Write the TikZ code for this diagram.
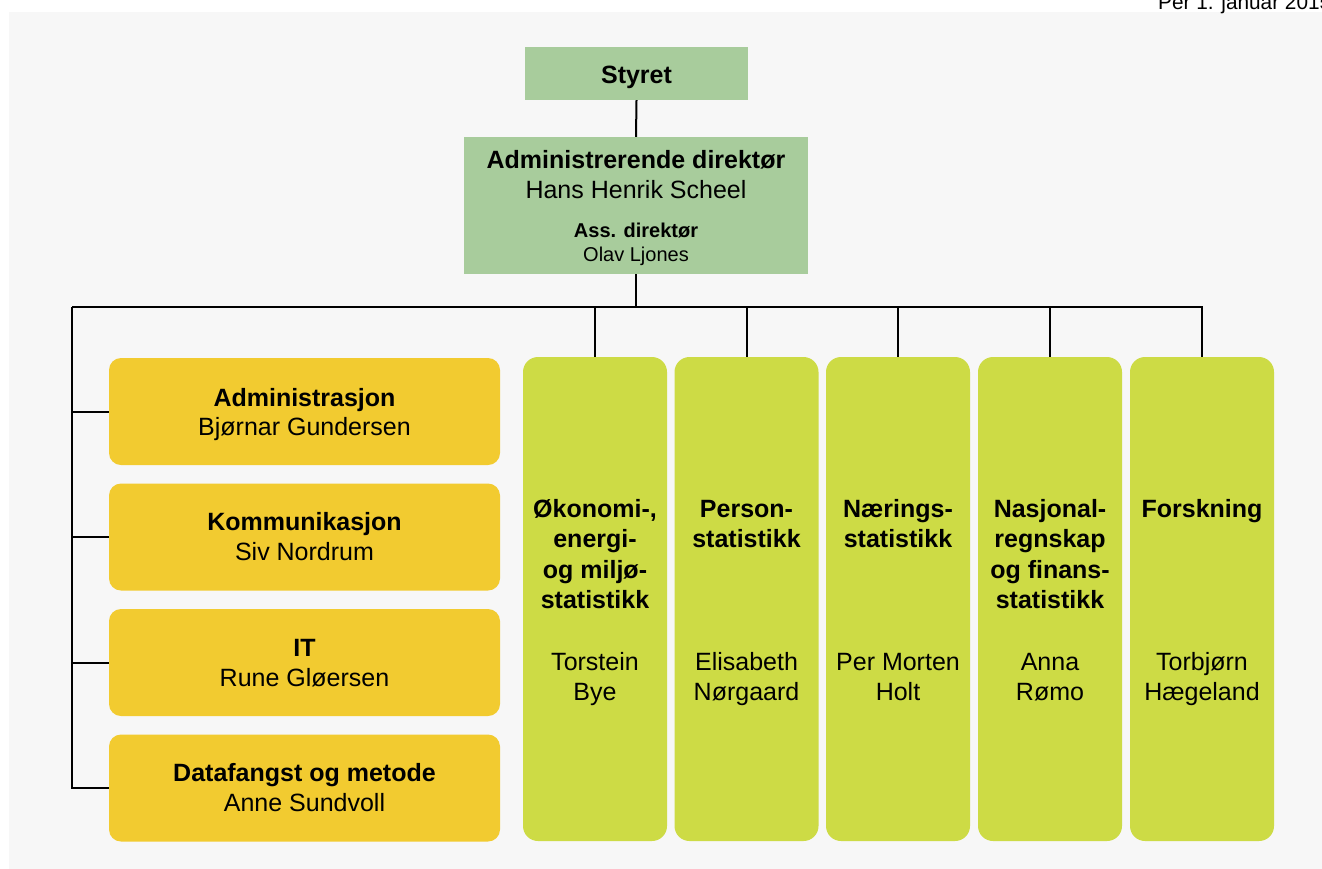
\documentclass[tikz,border=0pt]{standalone}
\usepackage{fontspec}
\setmainfont{Liberation Sans}
\definecolor{panel}{RGB}{247,247,247}
\definecolor{topgreen}{RGB}{168,204,156}
\definecolor{boxyellow}{RGB}{242,203,48}
\definecolor{lime}{RGB}{205,219,69}
\newcommand\mlines[1]{\parbox[t]{160pt}{\centering #1}}
\tikzset{
  conn/.style={draw=black, line width=2pt},
  topbox/.style={fill=topgreen, draw=none, inner sep=0pt, rectangle},
  ybox/.style={fill=boxyellow, draw=none, inner sep=0pt, rounded corners=12pt, minimum width=391pt, minimum height=107pt},
  gbox/.style={fill=lime, draw=none, inner sep=0pt, rounded corners=15pt, minimum width=144pt, minimum height=484pt},
  bigb/.style={font=\fontsize{25}{30.5}\selectfont\bfseries, anchor=base, inner sep=0pt},
  bigr/.style={font=\fontsize{25}{30.5}\selectfont, anchor=base, inner sep=0pt},
  smb/.style={font=\fontsize{20}{24}\selectfont\bfseries, anchor=base, inner sep=0pt},
  smr/.style={font=\fontsize{20}{24}\selectfont, anchor=base, inner sep=0pt},
}
\begin{document}
\begin{tikzpicture}[x=1pt,y=-1pt]
\useasboundingbox (0,0) rectangle (1322,868);
\fill[white] (0,0) rectangle (1322,868);
\fill[panel] (9,12) rectangle (1330,876);
\node[font=\fontsize{20.8}{24}\selectfont, anchor=base west, inner sep=0pt] (date) at (1158,9) {Per 1. januar 2015};

% top boxes
\node[topbox, minimum width=223pt, minimum height=53pt] (styret) at (636.5,73.5) {};
\node[bigb] (styrett) at (636.5,83) {Styret};
\node[topbox, minimum width=344pt, minimum height=137pt] (adm) at (636,205.5) {};
\node[bigb] (admt) at (636,168) {Administrerende direktør};
\node[bigr] (admn) at (636,198) {Hans Henrik Scheel};
\node[smb] (asst) at (636,237) {Ass. direktør};
\node[smr] (assn) at (636,261) {Olav Ljones};

% yellow staff boxes
\node[ybox] (y1) at (304.5,411.5) {};
\node[bigb] (y1t) at (304.5,406) {Administrasjon};
\node[bigr] (y1n) at (304.5,435) {Bjørnar Gundersen};
\node[ybox] (y2) at (304.5,537) {};
\node[bigb] (y2t) at (304.5,530) {Kommunikasjon};
\node[bigr] (y2n) at (304.5,560) {Siv Nordrum};
\node[ybox] (y3) at (304.5,662.5) {};
\node[bigb] (y3t) at (304.5,656) {IT};
\node[bigr] (y3n) at (304.5,686) {Rune Gløersen};
\node[ybox] (y4) at (304.5,788) {};
\node[bigb] (y4t) at (304.5,781) {Datafangst og metode};
\node[bigr] (y4n) at (304.5,811) {Anne Sundvoll};

% green department boxes
\node[gbox] (g1) at (595,599) {};
\node[bigb] (g1t) at (595,517) {\mlines{Økonomi-,\\energi-\\og miljø-\\statistikk}};
\node[bigr] (g1n) at (595,670) {\mlines{Torstein\\Bye}};
\node[gbox] (g2) at (746.5,599) {};
\node[bigb] (g2t) at (746.5,517) {\mlines{Person-\\statistikk}};
\node[bigr] (g2n) at (746.5,670) {\mlines{Elisabeth\\Nørgaard}};
\node[gbox] (g3) at (898,599) {};
\node[bigb] (g3t) at (898,517) {\mlines{Nærings-\\statistikk}};
\node[bigr] (g3n) at (898,670) {\mlines{Per Morten\\Holt}};
\node[gbox] (g4) at (1050,599) {};
\node[bigb] (g4t) at (1050,517) {\mlines{Nasjonal-\\regnskap\\og finans-\\statistikk}};
\node[bigr] (g4n) at (1050,670) {\mlines{Anna\\Rømo}};
\node[gbox] (g5) at (1202,599) {};
\node[bigb] (g5t) at (1202,517) {\mlines{Forskning}};
\node[bigr] (g5n) at (1202,670) {\mlines{Torbjørn\\Hægeland}};

% connectors
\coordinate (bus) at (636,307);
\coordinate (busL) at (72,307);
\draw[conn] (styret.south) -- (adm.north);
\draw[conn] (adm.south) -- (bus);
\draw[conn] (busL) -- (bus -| g5.north) -- (g5.north);
\draw[conn] (busL) |- (y4.west);
\foreach \y in {y1,y2,y3} \draw[conn] (\y.west) -- (\y.west -| busL);
\foreach \g in {g1,g2,g3,g4} \draw[conn] (\g.north) -- (\g.north |- busL);
\end{tikzpicture}
\end{document}
